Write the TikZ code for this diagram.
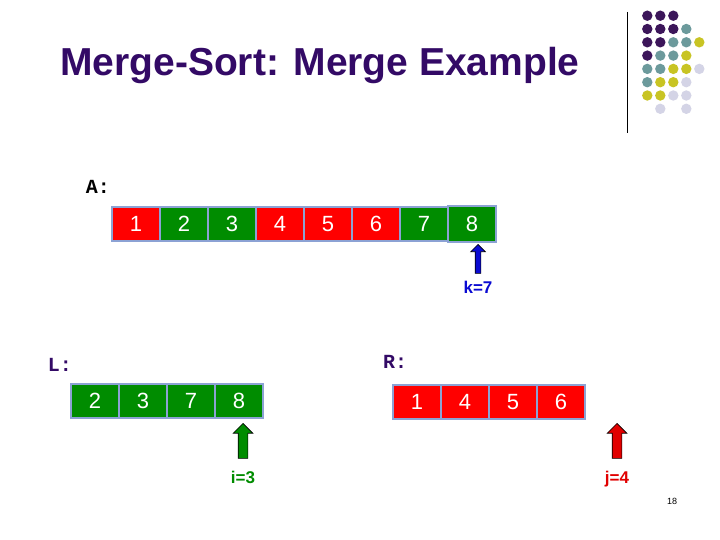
\documentclass[tikz,border=0pt]{standalone}
\usepackage{fontspec}
\setmainfont{Liberation Sans}
\setmonofont{Liberation Mono}
\usetikzlibrary{positioning,shapes.arrows}

\definecolor{titlepurple}{RGB}{51,10,102}
\definecolor{cellred}{RGB}{255,0,0}
\definecolor{cellgreen}{RGB}{0,140,0}
\definecolor{cellborder}{RGB}{140,162,212}
\definecolor{ptrblue}{RGB}{10,10,210}
\definecolor{ptrred}{RGB}{225,0,0}
\definecolor{dotpurple}{RGB}{60,22,90}
\definecolor{dotteal}{RGB}{108,154,156}
\definecolor{dotyellow}{RGB}{200,196,36}
\definecolor{dotlilac}{RGB}{212,212,230}

\begin{document}
\begin{tikzpicture}[
  x=1pt, y=-1pt,
  every node/.style={font=\fontsize{22}{24}\selectfont},
  cell/.style={rectangle, draw=cellborder, line width=2.5pt, text=white,
               minimum width=48pt, minimum height=34pt, inner sep=0pt, outer sep=0pt},
  redcell/.style={cell, fill=cellred},
  greencell/.style={cell, fill=cellgreen},
  arrname/.style={font=\ttfamily\bfseries\fontsize{20}{22}\selectfont, text=titlepurple},
  pointer/.style={single arrow, draw=black, line width=0.6pt, shape border rotate=90,
                  inner sep=4.5pt, minimum width=19pt, minimum height=35pt,
                  single arrow head extend=5pt, anchor=tip},
  ptrtext/.style={font=\bfseries\fontsize{17}{19}\selectfont}
]
\useasboundingbox[fill=white] (0,0) rectangle (720,540);

% corner dots and rule
\foreach \c/\r/\col in {1/1/dotpurple, 2/1/dotpurple, 3/1/dotpurple,
    1/2/dotpurple, 2/2/dotpurple, 3/2/dotpurple, 4/2/dotteal,
    1/3/dotpurple, 2/3/dotpurple, 3/3/dotteal, 4/3/dotteal, 5/3/dotyellow,
    1/4/dotpurple, 2/4/dotteal, 3/4/dotteal, 4/4/dotyellow,
    1/5/dotteal, 2/5/dotteal, 3/5/dotyellow, 4/5/dotyellow, 5/5/dotlilac,
    1/6/dotteal, 2/6/dotyellow, 3/6/dotyellow, 4/6/dotlilac,
    1/7/dotyellow, 2/7/dotyellow, 3/7/dotlilac, 4/7/dotlilac,
    2/8/dotlilac, 4/8/dotlilac}
  \fill[\col] ({634.3+13*\c},{2.4+13.3*\r}) circle (5.2pt);
\draw[line width=1pt] (627,12) -- (627,133);

\node[font=\bfseries\fontsize{39}{42}\selectfont, text=titlepurple] (title) at (320,66) {Merge-Sort: Merge Example};

% A
\node[arrname, text=black] (Aname) at (98,187) {A:};
\node[redcell]                     (A1) at (136,224) {1};
\node[greencell, right=0pt of A1]  (A2) {2};
\node[greencell, right=0pt of A2]  (A3) {3};
\node[redcell,   right=0pt of A3]  (A4) {4};
\node[redcell,   right=0pt of A4]  (A5) {5};
\node[redcell,   right=0pt of A5]  (A6) {6};
\node[greencell, right=0pt of A6]  (A7) {7};
\node[greencell, right=0pt of A7, minimum height=35.5pt]  (A8) {8};

% L
\node[arrname] (Lname) at (60,365) {L:};
\node[greencell]                   (L1) at (95,401) {2};
\node[greencell, right=0pt of L1]  (L2) {3};
\node[greencell, right=0pt of L2]  (L3) {7};
\node[greencell, right=0pt of L3]  (L4) {8};

% R
\node[arrname] (Rname) at (395,362) {R:};
\node[redcell]                     (R1) at (417,402) {1};
\node[redcell,   right=0pt of R1]  (R2) {4};
\node[redcell,   right=0pt of R2]  (R3) {5};
\node[redcell,   right=0pt of R3]  (R4) {6};

% pointers
\node[pointer, fill=ptrblue, inner sep=2.5pt, minimum width=14pt, minimum height=29pt,
      single arrow head extend=4.5pt] (kptr) at (478,244) {};
\node[ptrtext, text=ptrblue, below=4pt of kptr] (klabel) {k=7};

\node[pointer, fill=cellgreen] (iptr) at (243,423) {};
\node[ptrtext, text=cellgreen, below=9pt of iptr] (ilabel) {i=3};

\node[pointer, fill=ptrred] (jptr) at (617,423) {};
\node[ptrtext, text=ptrred, below=9pt of jptr] (jlabel) {j=4};

\node[font=\fontsize{9}{10}\selectfont] (pageno) at (672,501) {18};

\end{tikzpicture}
\end{document}
